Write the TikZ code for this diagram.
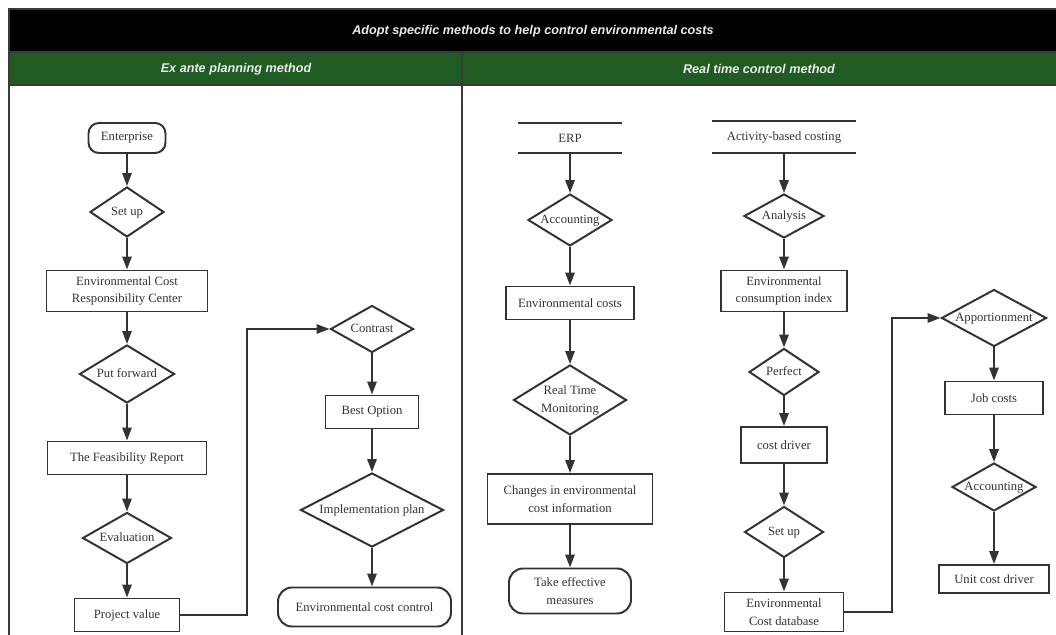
\documentclass[tikz,border=0pt]{standalone}
\usepackage{fontspec}
\setmainfont{Liberation Serif}
\newfontfamily\headfont{Liberation Sans}
\usepackage{tikz}
\usetikzlibrary{shapes.geometric,arrows.meta,calc}
\usepackage{xcolor}
\definecolor{ink}{HTML}{333333}
\definecolor{barblack}{HTML}{000000}
\definecolor{bargreen}{HTML}{1F5B23}
\definecolor{rule}{HTML}{3A3A3A}
% text set inside a diamond must not widen it
\newcommand{\dtxt}[1]{\makebox[0pt]{\begin{tabular}{@{}c@{}}#1\end{tabular}}}
\tikzset{
  >={Triangle[length=3.2mm,width=2.3mm]},
}

\begin{document}
\begin{tikzpicture}[
  x=0.025cm,y=-0.025cm,
  every node/.style={font=\fontsize{9}{12.5}\selectfont,text=ink},
  sz/.style 2 args={minimum width=#1*0.025cm,minimum height=#2*0.025cm},
  line/.style={draw=ink,line width=1.4pt},
  frame/.style={draw=rule,line width=1.4pt},
  proc/.style={draw=ink,line width=1.4pt,rectangle,inner sep=0pt,align=center},
  term/.style={proc,rounded corners=3.5mm},
  dec/.style={draw=ink,line width=1.4pt,diamond,inner sep=0pt},
  store/.style={inner sep=0pt,align=center},
  head/.style={font=\headfont\fontsize{9}{11}\selectfont\bfseries\itshape,text=white!92!black}
]
\useasboundingbox (0,0) rectangle (1056,635);

% frame and headers
\fill[barblack] (9,9) rectangle (1056,52);
\fill[bargreen] (9,52) rectangle (1056,85);
\draw[frame] (1056,9) -- (9,9) -- (9,635);
\draw[frame] (9,52) -- (1056,52);
\draw[frame] (9,85) -- (1056,85);
\draw[frame] (462,52) -- (462,635);

\node[head] (title) at (533,31) {Adopt specific methods to help control environmental costs};
\node[head] (hdleft) at (236,69) {Ex ante planning method};
\node[head] (hdright) at (759,69) {Real time control method};

% ex ante planning
\node[term,sz={77}{30},rounded corners=2.6mm] (ent) at (127,138) {Enterprise};
\node[dec,sz={74}{50}] (set1) at (127,212) {\dtxt{Set up}};
\node[proc,sz={161}{41}] (ecrc) at (127,291) {Environmental Cost\\Responsibility Center};
\node[dec,sz={95}{58}] (putf) at (127,374) {\dtxt{Put forward}};
\node[proc,sz={159}{33}] (feas) at (127,458) {The Feasibility Report};
\node[dec,sz={89}{51}] (eval) at (127,538) {\dtxt{Evaluation}};
\node[proc,sz={105}{33}] (pv) at (127,615) {Project value};
\coordinate (bendL) at (247,615);

\node[dec,sz={83}{47}] (contr) at (372,329) {\dtxt{Contrast}};
\node[proc,sz={93}{33}] (best) at (372,412) {Best Option};
\node[dec,sz={143}{74}] (impl) at (372,510) {\dtxt{Implementation plan}};
\node[term,sz={173}{39}] (ecc) at (364.5,607) {Environmental cost control};

\draw[line,->] (ent) -- (set1);
\draw[line,->] (set1) -- (ecrc);
\draw[line,->] (ecrc) -- (putf);
\draw[line,->] (putf) -- (feas);
\draw[line,->] (feas) -- (eval);
\draw[line,->] (eval) -- (pv);
\draw[line,->] (pv) -- (bendL) |- (contr);
\draw[line,->] (contr) -- (best);
\draw[line,->] (best) -- (impl);
\draw[line,->] (impl.south) -- (impl.south |- ecc.north);

% real time control: ERP
\node[store,sz={103}{30}] (erp) at (570,138) {ERP};
\node[dec,sz={84}{52}] (acc1) at (570,220) {\dtxt{Accounting}};
\node[proc,sz={128}{33}] (envc) at (570,303) {Environmental costs};
\node[dec,sz={113}{70}] (rtm) at (570,400) {\dtxt{Real Time\\Monitoring}};
\node[proc,sz={165}{50}] (chg) at (570,499) {Changes in environmental\\cost information};
\node[term,sz={122}{45}] (take) at (570,591) {Take effective\\measures};

\draw[line] (erp.north west) -- (erp.north east);
\draw[line] (erp.south west) -- (erp.south east);
\draw[line,->] (erp) -- (acc1);
\draw[line,->] (acc1) -- (envc);
\draw[line,->] (envc) -- (rtm);
\draw[line,->] (rtm) -- (chg);
\draw[line,->] (chg) -- (take);

% real time control: activity-based costing
\node[store,sz={143}{32}] (abc) at (784,137) {Activity-based costing};
\node[dec,sz={80}{44}] (anal) at (784,216) {\dtxt{Analysis}};
\node[proc,sz={126}{41}] (eci) at (784,291) {Environmental\\consumption index};
\node[dec,sz={70}{47}] (perf) at (784,372) {\dtxt{Perfect}};
\node[proc,sz={86}{36}] (cdrv) at (784,445) {cost driver};
\node[dec,sz={79}{51}] (set2) at (784,532) {\dtxt{Set up}};
\node[proc,sz={119}{39}] (ecdb) at (784,612) {Environmental\\Cost database};
\coordinate (bendR) at (892,612);

\node[dec,sz={105}{57}] (appo) at (994,318) {\dtxt{Apportionment}};
\node[proc,sz={98}{33}] (job) at (994,398) {Job costs};
\node[dec,sz={84}{48}] (acc2) at (994,487) {\dtxt{Accounting}};
\node[proc,sz={110}{28}] (ucd) at (994,579) {Unit cost driver};

\draw[line] (abc.north west) -- (abc.north east);
\draw[line] (abc.south west) -- (abc.south east);
\draw[line,->] (abc) -- (anal);
\draw[line,->] (anal) -- (eci);
\draw[line,->] (eci) -- (perf);
\draw[line,->] (perf) -- (cdrv);
\draw[line,->] (cdrv) -- (set2);
\draw[line,->] (set2) -- (ecdb);
\draw[line,->] (ecdb) -- (bendR) |- (appo);
\draw[line,->] (appo) -- (job);
\draw[line,->] (job) -- (acc2);
\draw[line,->] (acc2) -- (ucd);

\end{tikzpicture}
\end{document}
